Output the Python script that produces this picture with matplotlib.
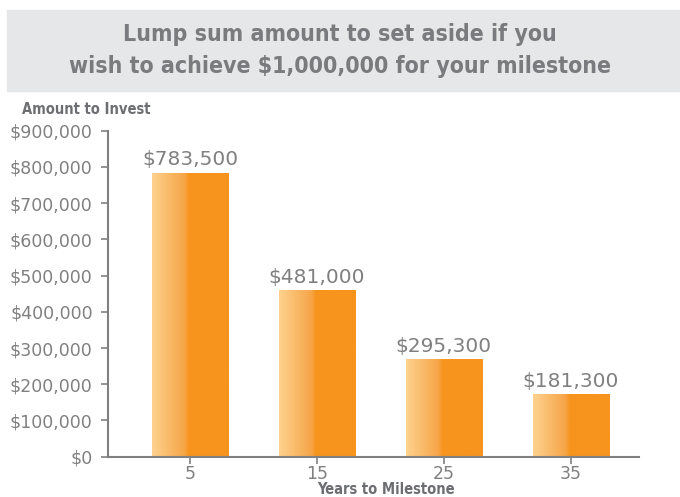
import numpy as np
import matplotlib
matplotlib.use("Agg")
import matplotlib.pyplot as plt
from matplotlib.patches import Rectangle
from matplotlib.colors import to_rgb
from matplotlib.ticker import FuncFormatter

years = ["5", "15", "25", "35"]
# bar heights as drawn in the picture (labels differ slightly)
bar_heights = [784000, 460000, 270000, 173000]
bar_labels = ["$783,500", "$481,000", "$295,300", "$181,300"]

grey = "#808080"
title_grey = "#7A7B7E"

fig = plt.figure(figsize=(6.8, 4.97), dpi=100)

# title band
fig.patches.append(Rectangle((7 / 680, 1 - 91 / 497), 1 - 7 / 680, 81 / 497,
                             transform=fig.transFigure, color="#E6E7E8", zorder=0))
fig.text(0.5, 1 - 35 / 497, "Lump sum amount to set aside if you",
         ha="center", va="center", fontsize=16.6, fontweight="bold",
         fontstretch="condensed", color=title_grey)
fig.text(0.5, 1 - 67 / 497, "wish to achieve $1,000,000 for your milestone",
         ha="center", va="center", fontsize=16.6, fontweight="bold",
         fontstretch="condensed", color=title_grey)

ax = fig.add_axes([108 / 680, 1 - 456.7 / 497, 531 / 680, 326 / 497])

# horizontal gradient: light peach to orange
light = np.array(to_rgb("#FED28E"))
mid = np.array(to_rgb("#F6A548"))
dark = np.array(to_rgb("#F7941D"))
t = np.linspace(0, 1, 200)
grad = np.zeros((1, 200, 3))
for i, v in enumerate(t):
    if v < 0.42:
        grad[0, i] = light + (mid - light) * (v / 0.42)
    elif v < 0.48:
        grad[0, i] = mid + (dark - mid) * ((v - 0.42) / 0.06)
    else:
        grad[0, i] = dark

x = np.arange(len(years))
width = 0.6
bars = ax.bar(x, bar_heights, width=width, color="none", zorder=2)
for rect, lab in zip(bars, bar_labels):
    x0 = rect.get_x()
    h = rect.get_height()
    ax.imshow(grad, extent=[x0, x0 + width, 0, h], aspect="auto", zorder=2,
              interpolation="bilinear")
    ax.text(x0 + width / 2, h + 9000, lab, ha="center", va="bottom",
            fontsize=14.5, color=grey)

ax.set_xlim(-0.65, 3.54)
ax.set_ylim(0, 900000)
ax.set_yticks(np.arange(0, 900001, 100000))
ax.yaxis.set_major_formatter(FuncFormatter(lambda v, p: "${:,.0f}".format(v)))
ax.set_xticks(x)
ax.set_xticklabels(years)

for s in ["top", "right"]:
    ax.spines[s].set_visible(False)
for s in ["left", "bottom"]:
    ax.spines[s].set_color(grey)
    ax.spines[s].set_linewidth(1.5)
ax.tick_params(axis="both", colors=grey, labelcolor=grey, labelsize=12.5,
               length=5, width=1.2)
ax.tick_params(axis="y", pad=6)
ax.tick_params(axis="x", pad=1)

fig.text(22 / 680, 1 - 110 / 497, "Amount to Invest", ha="left", va="center",
         fontsize=10.5, fontweight="bold", fontstretch="condensed", color="#6D6E71")
fig.text(386 / 680, 1 - 489 / 497, "Years to Milestone", ha="center", va="center",
         fontsize=10.5, fontweight="bold", fontstretch="condensed", color="#6D6E71")

fig.savefig("out.png", dpi=100)
